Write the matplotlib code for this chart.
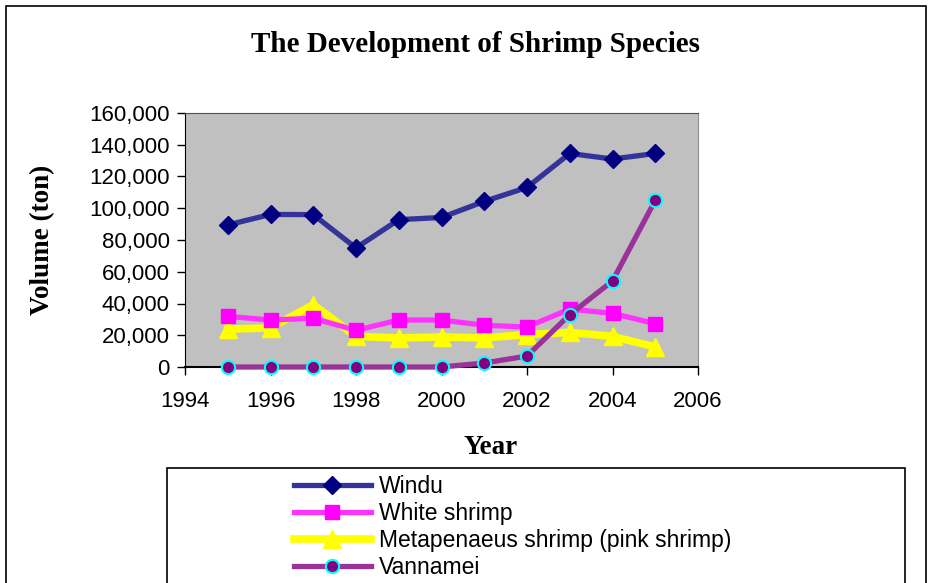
import matplotlib.pyplot as plt
from matplotlib.patches import Rectangle
from matplotlib.ticker import FuncFormatter

years = [1995, 1996, 1997, 1998, 1999, 2000, 2001, 2002, 2003, 2004, 2005]
windu = [89500, 96100, 96000, 75000, 92800, 94200, 104300, 113100, 134500, 131000, 134500]
white_shrimp = [31900, 29600, 30700, 23100, 29600, 29600, 26300, 25200, 36500, 33800, 27300]
pink_shrimp = [23900, 24600, 39300, 19300, 18300, 18900, 18300, 20400, 21800, 19300, 12600]
vannamei = [0, 0, 0, 0, 0, 0, 2500, 6900, 33000, 54200, 105000]

labels = ["Windu", "White shrimp", "Metapenaeus shrimp (pink shrimp)", "Vannamei"]

fig = plt.figure(figsize=(9.3, 5.83), dpi=100)
W, H = 930, 583

# plot area in pixel units
x0, x1, ytop, ybot = 185, 698, 113, 367
ax = fig.add_axes([x0 / W, 1 - ybot / H, (x1 - x0) / W, (ybot - ytop) / H])
ax.set_facecolor("#C0C0C0")

h1, = ax.plot(years, windu, color="#333399", lw=3.8, marker="D", ms=9,
              mfc="#000080", mec="#000080", zorder=4)
h2, = ax.plot(years, white_shrimp, color="#FF33FF", lw=3.8, marker="s", ms=10,
              mfc="#FF00FF", mec="#FF00FF", zorder=3)
h3, = ax.plot(years, pink_shrimp, color="#FFFF00", lw=5.5, marker="^", ms=12.5,
              mfc="#FFFF00", mec="#FFFF00", zorder=2)
h4, = ax.plot(years, vannamei, color="#993399", lw=3.8, marker="o", ms=9.5,
              mfc="#800080", mec="#00FFFF", mew=1.5, zorder=5, clip_on=False)

ax.set_xlim(1994, 2006)
ax.set_ylim(0, 160000)
ax.set_xticks(range(1994, 2007, 2))
ax.set_yticks(range(0, 160001, 20000))
ax.yaxis.set_major_formatter(FuncFormatter(lambda v, p: f"{int(v):,}"))
ax.tick_params(direction="out", length=6, width=1, labelsize=16)
ax.tick_params(axis="x", pad=11)
ax.tick_params(axis="y", pad=5)
for lab in ax.get_xticklabels() + ax.get_yticklabels():
    lab.set_family("Liberation Sans")

ax.spines["left"].set_color("black")
ax.spines["bottom"].set_color("black")
ax.spines["bottom"].set_linewidth(1.5)
ax.spines["top"].set_color("#505050")
ax.spines["right"].set_color("#909090")

fig.text(475 / W, 1 - 44 / H, "The Development of Shrimp Species", ha="center", va="center",
         family="Liberation Serif", weight="bold", fontsize=21)
fig.text(43 / W, 1 - 240 / H, "Volume (ton)", ha="center", va="center", rotation=90,
         family="Liberation Serif", weight="bold", fontsize=19.5)
fig.text(491 / W, 1 - 447 / H, "Year", ha="center", va="center",
         family="Liberation Serif", weight="bold", fontsize=19.5)

# outer chart border and legend box (both run off the bottom edge)
fig.patches.append(Rectangle((6 / W, -0.1), 920 / W, 1.1 - 6 / H, transform=fig.transFigure,
                             fill=False, ec="black", lw=1.2))
fig.patches.append(Rectangle((167 / W, -0.1), 738 / W, 0.1 + 1 - 468 / H, transform=fig.transFigure,
                             fill=False, ec="black", lw=1.2))

leg = fig.legend([h1, h2, h3, h4], labels, loc="upper left",
                 bbox_to_anchor=(294 / W, 1 - 475 / H), frameon=False,
                 prop={"family": "Liberation Sans", "size": 16.5},
                 handlelength=3.35, handletextpad=0.35, labelspacing=0.17,
                 borderpad=0, borderaxespad=0)

fig.savefig("out.png", dpi=100)
